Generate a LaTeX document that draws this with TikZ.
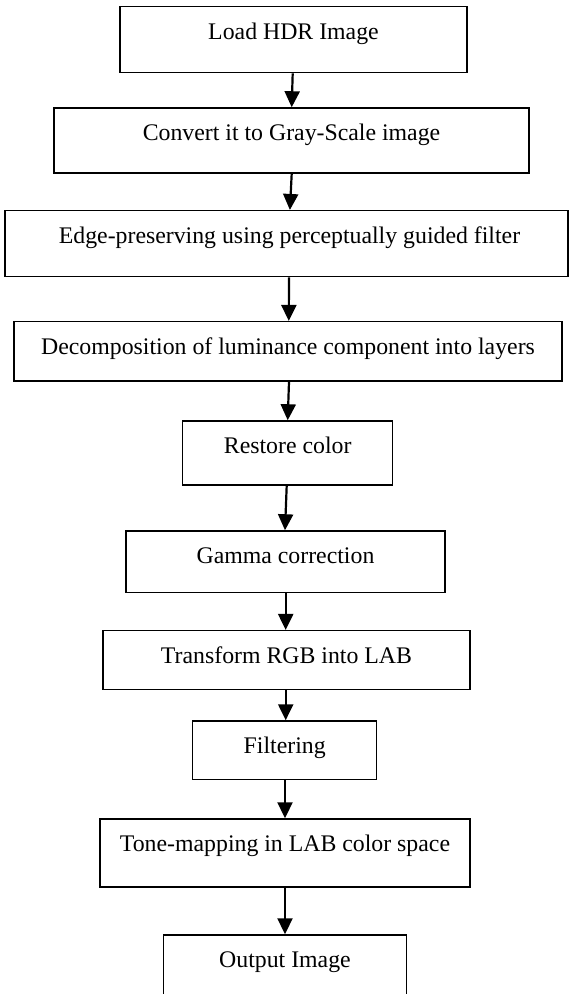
\documentclass[tikz,border=0pt]{standalone}
\usepackage{fontspec}
\setmainfont{Liberation Serif}
\usetikzlibrary{arrows.meta}
\tikzset{
  box/.style={draw=black, line width=1.5pt, fill=white, inner sep=0pt, rectangle},
  lbl/.style={anchor=base, inner sep=0pt, font=\fontsize{23.8}{28}\selectfont},
  arr/.style={draw=black, line width=2.2pt, -{Triangle[length=16pt,width=15pt]}}
}
\begin{document}
\begin{tikzpicture}[x=1pt,y=-1pt]
\useasboundingbox (0,0) rectangle (570,994);
\clip (0,0) rectangle (570,994);
\fill[white] (0,0) rectangle (570,994);
% boxes
\node[box, minimum width=347pt, minimum height=66pt] (n1) at (293.5,39.7) {};
\node[box, minimum width=475pt, minimum height=65pt] (n2) at (291.5,140.5) {};
\node[box, minimum width=563pt, minimum height=66pt] (n3) at (286.5,243.7) {};
\node[box, minimum width=548pt, minimum height=59.3pt] (n4) at (288,351.35) {};
\node[box, minimum width=210pt, minimum height=64pt] (n5) at (287.7,453) {};
\node[box, minimum width=319pt, minimum height=61.7pt] (n6) at (285.5,561.85) {};
\node[box, minimum width=367pt, minimum height=58.6pt] (n7) at (286.5,660) {};
\node[box, minimum width=184pt, minimum height=58.3pt] (n8) at (284.7,750.15) {};
\node[box, minimum width=370pt, minimum height=68pt] (n9) at (285,853) {};
\node[box, minimum width=243.4pt, minimum height=75pt] (n10) at (285,972.5) {};
% labels
\node[lbl] (t1) at ([yshift=-33.5pt]n1.north) {Load HDR Image};
\node[lbl] (t2) at ([yshift=-33.5pt]n2.north) {Convert it to Gray-Scale image};
\node[lbl] (t3) at ([xshift=3pt,yshift=-33.5pt]n3.north) {Edge-preserving using perceptually guided filter};
\node[lbl] (t4) at ([yshift=-33.5pt]n4.north) {Decomposition of luminance component into layers};
\node[lbl] (t5) at ([yshift=-33.5pt]n5.north) {Restore color};
\node[lbl] (t6) at ([yshift=-33.5pt]n6.north) {Gamma correction};
\node[lbl] (t7) at ([yshift=-33.5pt]n7.north) {Transform RGB into LAB};
\node[lbl] (t8) at ([yshift=-33.5pt]n8.north) {Filtering};
\node[lbl] (t9) at ([yshift=-33.5pt]n9.north) {Tone-mapping in LAB color space};
\node[lbl] (t10) at ([yshift=-33.5pt]n10.north) {Output Image};
% arrows
\draw[arr] ([xshift=-0.8pt]n1.south) -- ([xshift=0.2pt]n2.north);
\draw[arr] ([xshift=0.2pt]n2.south) -- ([xshift=3.4pt]n3.north);
\draw[arr] ([xshift=2.5pt]n3.south) -- ([xshift=0.8pt]n4.north);
\draw[arr] ([xshift=1pt]n4.south) -- ([xshift=0pt]n5.north);
\draw[arr] ([xshift=-1pt]n5.south) -- ([xshift=-0.5pt]n6.north);
\draw[arr] ([xshift=0.2pt]n6.south) -- ([xshift=-0.8pt]n7.north);
\draw[arr] ([xshift=-0.8pt]n7.south) -- ([xshift=1pt]n8.north);
\draw[arr] ([xshift=0.3pt]n8.south) -- ([xshift=0pt]n9.north);
\draw[arr] (n9.south) -- (n10.north);
\end{tikzpicture}
\end{document}
